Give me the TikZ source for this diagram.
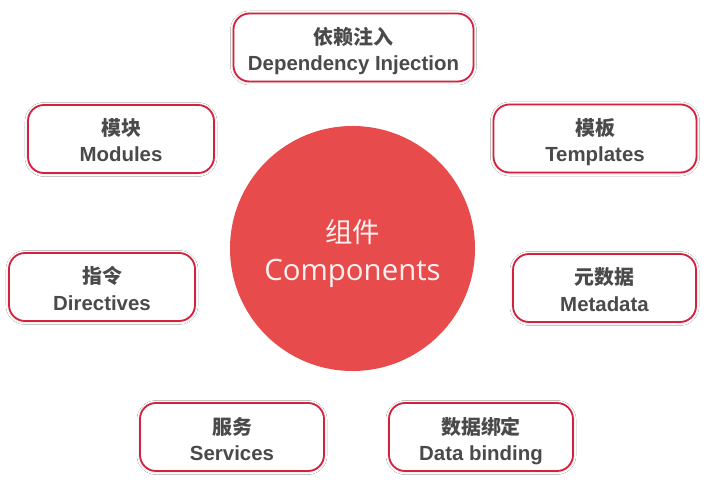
\documentclass[tikz,border=0pt]{standalone}
\usepackage{fontspec}
\setmainfont{Liberation Sans}
\newfontfamily\cjkfont{Noto Sans CJK SC}
\newfontfamily\enfont{Liberation Sans}
\newfontfamily\circfont{Open Sans}
\usetikzlibrary{shadows.blur}
\definecolor{boxred}{HTML}{D4213D}
\definecolor{circred}{HTML}{E84B4B}
\definecolor{txtgray}{HTML}{4A4A4A}
\definecolor{circtxt}{HTML}{FDF0F0}
\begin{document}
\begin{tikzpicture}[x=1bp,y=-1bp,
  box/.style={draw=boxred, line width=1.8bp, fill=white, rounded corners=16bp,
    minimum height=68bp, inner sep=0pt,
    blur shadow={shadow xshift=0bp, shadow yshift=-0.5bp, shadow blur radius=3bp, shadow blur steps=8, shadow opacity=18}},
  cn/.style={anchor=base, inner sep=0pt, text=txtgray, font=\cjkfont\bfseries\fontsize{20}{24}\selectfont},
  en/.style={anchor=base, inner sep=0pt, text=txtgray, font=\enfont\bfseries\fontsize{20.5}{24}\selectfont},
  bigcn/.style={anchor=base, inner sep=0pt, text=circtxt, font=\cjkfont\fontsize{27.5}{30}\selectfont},
  bigen/.style={anchor=base, inner sep=0pt, text=circtxt, font=\circfont\fontsize{29.5}{32}\selectfont}]
\fill[white] (0,0) rectangle (722,490);
\useasboundingbox (0,0) rectangle (722,490);

\node[circle, fill=circred, minimum size=245bp, inner sep=0pt] (comp) at (352.5,248.5) {};
\node[bigcn] (compc) at ([yshift=5.5bp]comp.center) {组件};
\node[bigen] (compe) at ([yshift=-31.5bp]comp.center) {Components};

\node[box, minimum width=240bp] (di) at (353.5,47.5) {};
\node[box, minimum width=186bp] (mod) at (121,139) {};
\node[box, minimum width=203bp] (tpl) at (595,138.5) {};
\node[box, minimum width=186bp] (dir) at (102,287) {};
\node[box, minimum width=183bp] (meta) at (604.5,288) {};
\node[box, minimum width=184bp] (svc) at (232,437) {};
\node[box, minimum width=184bp] (db) at (481,437) {};

\foreach \n/\c/\e in {di/依赖注入/Dependency Injection, mod/模块/Modules, tpl/模板/Templates,
  dir/指令/Directives, meta/元数据/Metadata, svc/服务/Services, db/数据绑定/Data binding}{
  \node[cn] (\n-cn) at ([yshift=3bp]\n.center) {\c};
  \node[en] (\n-en) at ([yshift=-23bp]\n.center) {\e};
}
\end{tikzpicture}
\end{document}
